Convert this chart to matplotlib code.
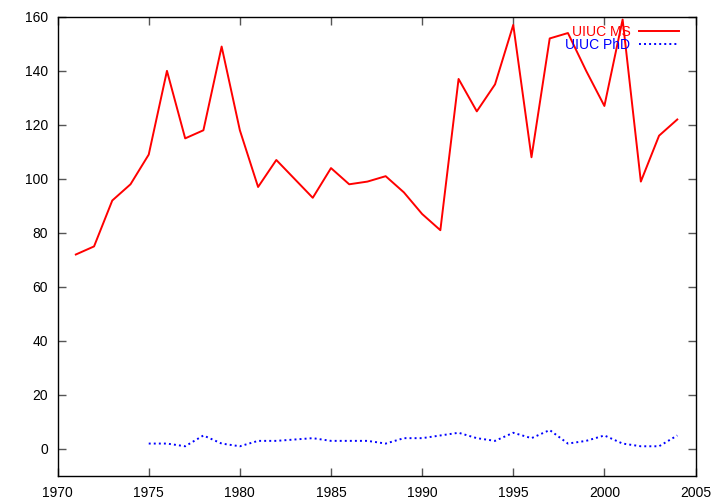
import matplotlib
matplotlib.use("Agg")
from matplotlib import pyplot as plt

plt.rcParams['font.family'] = ['Liberation Sans', 'DejaVu Sans']
plt.rcParams['font.size'] = 10

# UIUC degrees per year
ms_years = list(range(1971, 2005))
ms_counts = [72, 75, 92, 98, 109, 140, 115, 118, 149, 118,
             97, 107, 100, 93, 104, 98, 99, 101, 95, 87,
             81, 137, 125, 135, 157, 108, 152, 154, 140, 127,
             159, 99, 116, 122]

phd_years = list(range(1975, 2005))
phd_counts = [2, 2, 1, 5, 2, 1, 3, 3, 3.5, 4,
              3, 3, 3, 2, 4, 4, 5, 6, 4, 3,
              6, 4, 7, 2, 3, 5, 2, 1, 1, 5]

xticks = list(range(1970, 2006, 5))
yticks = list(range(0, 161, 20))

fig = plt.figure(figsize=(7.2, 5.04), dpi=100)
ax = fig.add_axes([0.080, 0.0556, 0.886, 0.911])

ax.plot(ms_years, ms_counts, color='#ff0000', lw=1.4, label="UIUC MS")
ax.plot(phd_years, phd_counts, color='#0000ff', lw=1.4, linestyle=(0, (1, 1.6)), label="UIUC PhD")

ax.set_xlim(1970, 2005)
ax.set_ylim(-10, 160)
ax.set_xticks(xticks)
ax.set_yticks(yticks)
ax.tick_params(direction='in', length=6, width=1, color='#555555',
               top=True, right=True, pad=7)
for s in ax.spines.values():
    s.set_linewidth(1)
    s.set_color('black')

ax.legend(loc='upper right', bbox_to_anchor=(0.974, 0.982), frameon=False,
          markerfirst=False, labelcolor='linecolor', borderaxespad=0, borderpad=0,
          handlelength=2.9, handletextpad=0.6, labelspacing=-0.06)

fig.savefig("out.png", dpi=100)
